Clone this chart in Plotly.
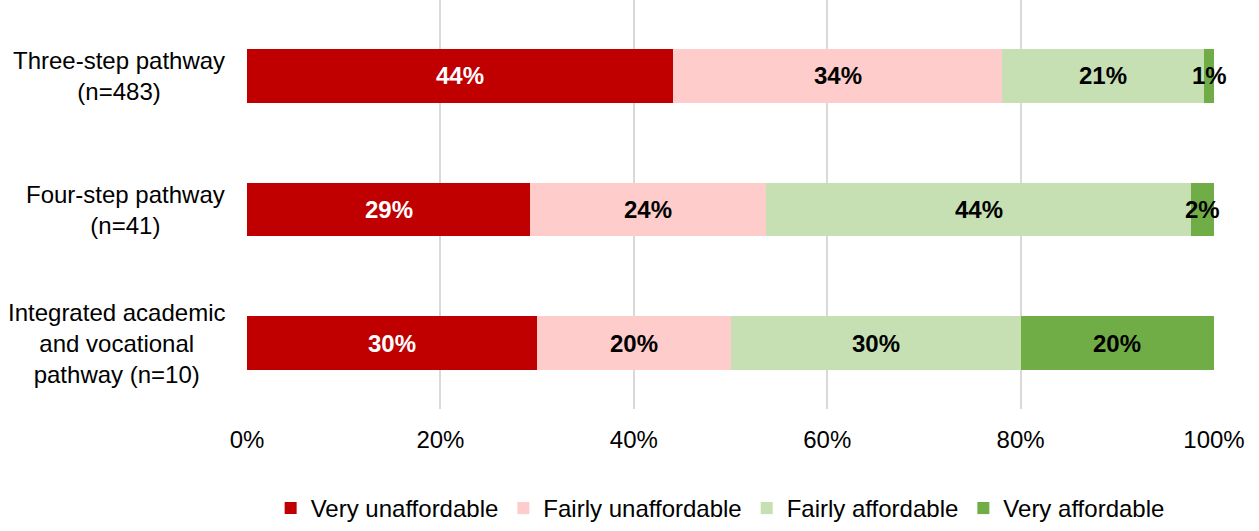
import plotly.graph_objects as go

categories = ["Three-step pathway<br>(n=483)", "Four-step pathway<br>(n=41)",
              "Integrated academic<br>and vocational<br>pathway (n=10)"]
series_names = ["Very unaffordable", "Fairly unaffordable", "Fairly affordable", "Very affordable"]
very_unaffordable = [44.1, 29.3, 30.0]
fairly_unaffordable = [34.0, 24.4, 20.0]
fairly_affordable = [20.9, 43.9, 30.0]
very_affordable = [1.0, 2.4, 20.0]
label_texts = [["44%", "29%", "30%"], ["34%", "24%", "20%"], ["21%", "44%", "30%"], ["1%", "2%", "20%"]]
colors = ["#C00000", "#FFCCCC", "#C6E0B4", "#70AD47"]
label_colors = ["white", "black", "black", "black"]
tick_vals = [0, 20, 40, 60, 80, 100]
tick_text = ["0%", "20%", "40%", "60%", "80%", "100%"]

series = [very_unaffordable, fairly_unaffordable, fairly_affordable, very_affordable]
FONT = "Liberation Sans, Arial, sans-serif"
FS = 24

fig = go.Figure()
for name, vals, col in zip(series_names, series, colors):
    fig.add_trace(go.Bar(y=categories, x=vals, name=name, orientation="h",
                         marker=dict(color=col, line=dict(width=0)),
                         textposition="none", hoverinfo="skip"))

annotations = []
cum = [0.0] * len(categories)
for si, vals in enumerate(series):
    for ci, v in enumerate(vals):
        annotations.append(dict(x=cum[ci] + v / 2, y=categories[ci], xref="x", yref="y",
                                text="<b>%s</b>" % label_texts[si][ci], showarrow=False,
                                font=dict(family=FONT, size=FS, color=label_colors[si])))
        cum[ci] += v

for c in categories:
    annotations.append(dict(x=0, y=c, xref="paper", yref="y", xanchor="right", xshift=-20,
                            text=c, showarrow=False, align="center",
                            font=dict(family=FONT, size=FS, color="black")))

fig.update_layout(
    barmode="stack", bargap=0.6,
    width=1259, height=531,
    margin=dict(l=247, r=45, t=0, b=122),
    plot_bgcolor="white", paper_bgcolor="white",
    font=dict(family=FONT, size=FS, color="black"),
    xaxis=dict(range=[0, 100], tickvals=tick_vals, ticktext=tick_text,
               showgrid=True, gridcolor="#D9D9D9", gridwidth=2, zeroline=False,
               showline=False, ticklabelstandoff=14,
               tickfont=dict(family=FONT, size=FS, color="black")),
    yaxis=dict(categoryorder="array", categoryarray=categories,
               range=[2.494, -0.569], showticklabels=False, showgrid=False,
               zeroline=False, showline=False),
    legend=dict(orientation="h", xref="container", yref="container",
                x=0.572, xanchor="center", y=0.0, yanchor="bottom",
                traceorder="normal",
                font=dict(family=FONT, size=FS, color="black"),
                itemwidth=30, tracegroupgap=0),
    annotations=annotations,
    showlegend=True,
)

fig.write_html("out.html", config={"displayModeBar": False},
               post_script="document.body.style.margin='0';document.body.style.overflow='hidden';")
